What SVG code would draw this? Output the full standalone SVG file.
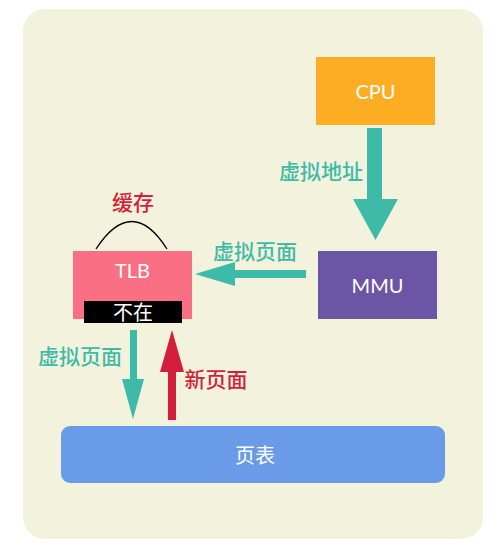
<svg xmlns="http://www.w3.org/2000/svg" width="500" height="550" viewBox="0 0 500 550">
<style>
.lbl{font-family:"Lato","Noto Sans CJK SC",sans-serif;font-size:20px;fill:#fff;text-anchor:middle;dominant-baseline:central}
.cn{font-family:"Noto Sans CJK SC",sans-serif;font-size:21px;font-weight:500;text-anchor:middle;dominant-baseline:central}
.teal{fill:#3DBBA8}
.red{fill:#D21F3C}
</style>
<rect x="0" y="0" width="500" height="550" fill="#ffffff"/>
<rect x="23" y="9" width="460" height="530" rx="22" fill="#F3F2DC"/>
<g id="cpu"><rect x="316" y="57" width="119" height="68" fill="#FBAE24"/><text class="lbl" x="375.5" y="91">CPU</text></g>
<g id="mmu"><rect x="318" y="251" width="119" height="68" fill="#6B55A5"/><text class="lbl" x="377.5" y="285">MMU</text></g>
<g id="tlb"><rect x="73" y="251" width="119" height="68" fill="#F96F84"/><text class="lbl" x="132.5" y="270">TLB</text>
<rect x="84" y="301" width="98" height="22" fill="#000"/><text class="lbl" x="133" y="312">不在</text>
<path d="M96 249 Q132 194 167 249" fill="none" stroke="#000" stroke-width="1.3"/>
<text class="cn red" x="133" y="201">缓存</text></g>
<g id="pagetable"><rect x="61" y="426" width="384" height="57" rx="9" fill="#6A9BE8"/><text class="lbl" x="255" y="455">页表</text></g>
<g id="connectors">
<path class="teal" d="M367 128 H382 V199 H398 L375.5 240 L353 199 H367 Z"/>
<text class="cn teal" x="321" y="170">虚拟地址</text>
<path class="teal" d="M306 270 V278 H235 V286 L195 274 L235 262 V270 Z"/>
<text class="cn teal" x="255" y="250">虚拟页面</text>
<path class="teal" d="M130 330 H137 V379 H144 L133 419 L122 379 H130 Z"/>
<text class="cn teal" x="80" y="355">虚拟页面</text>
<path class="red" d="M168 420 V372 H160 L172 330 L184 372 H176 V420 Z"/>
<text class="cn red" x="216" y="378">新页面</text>
</g>
</svg>
